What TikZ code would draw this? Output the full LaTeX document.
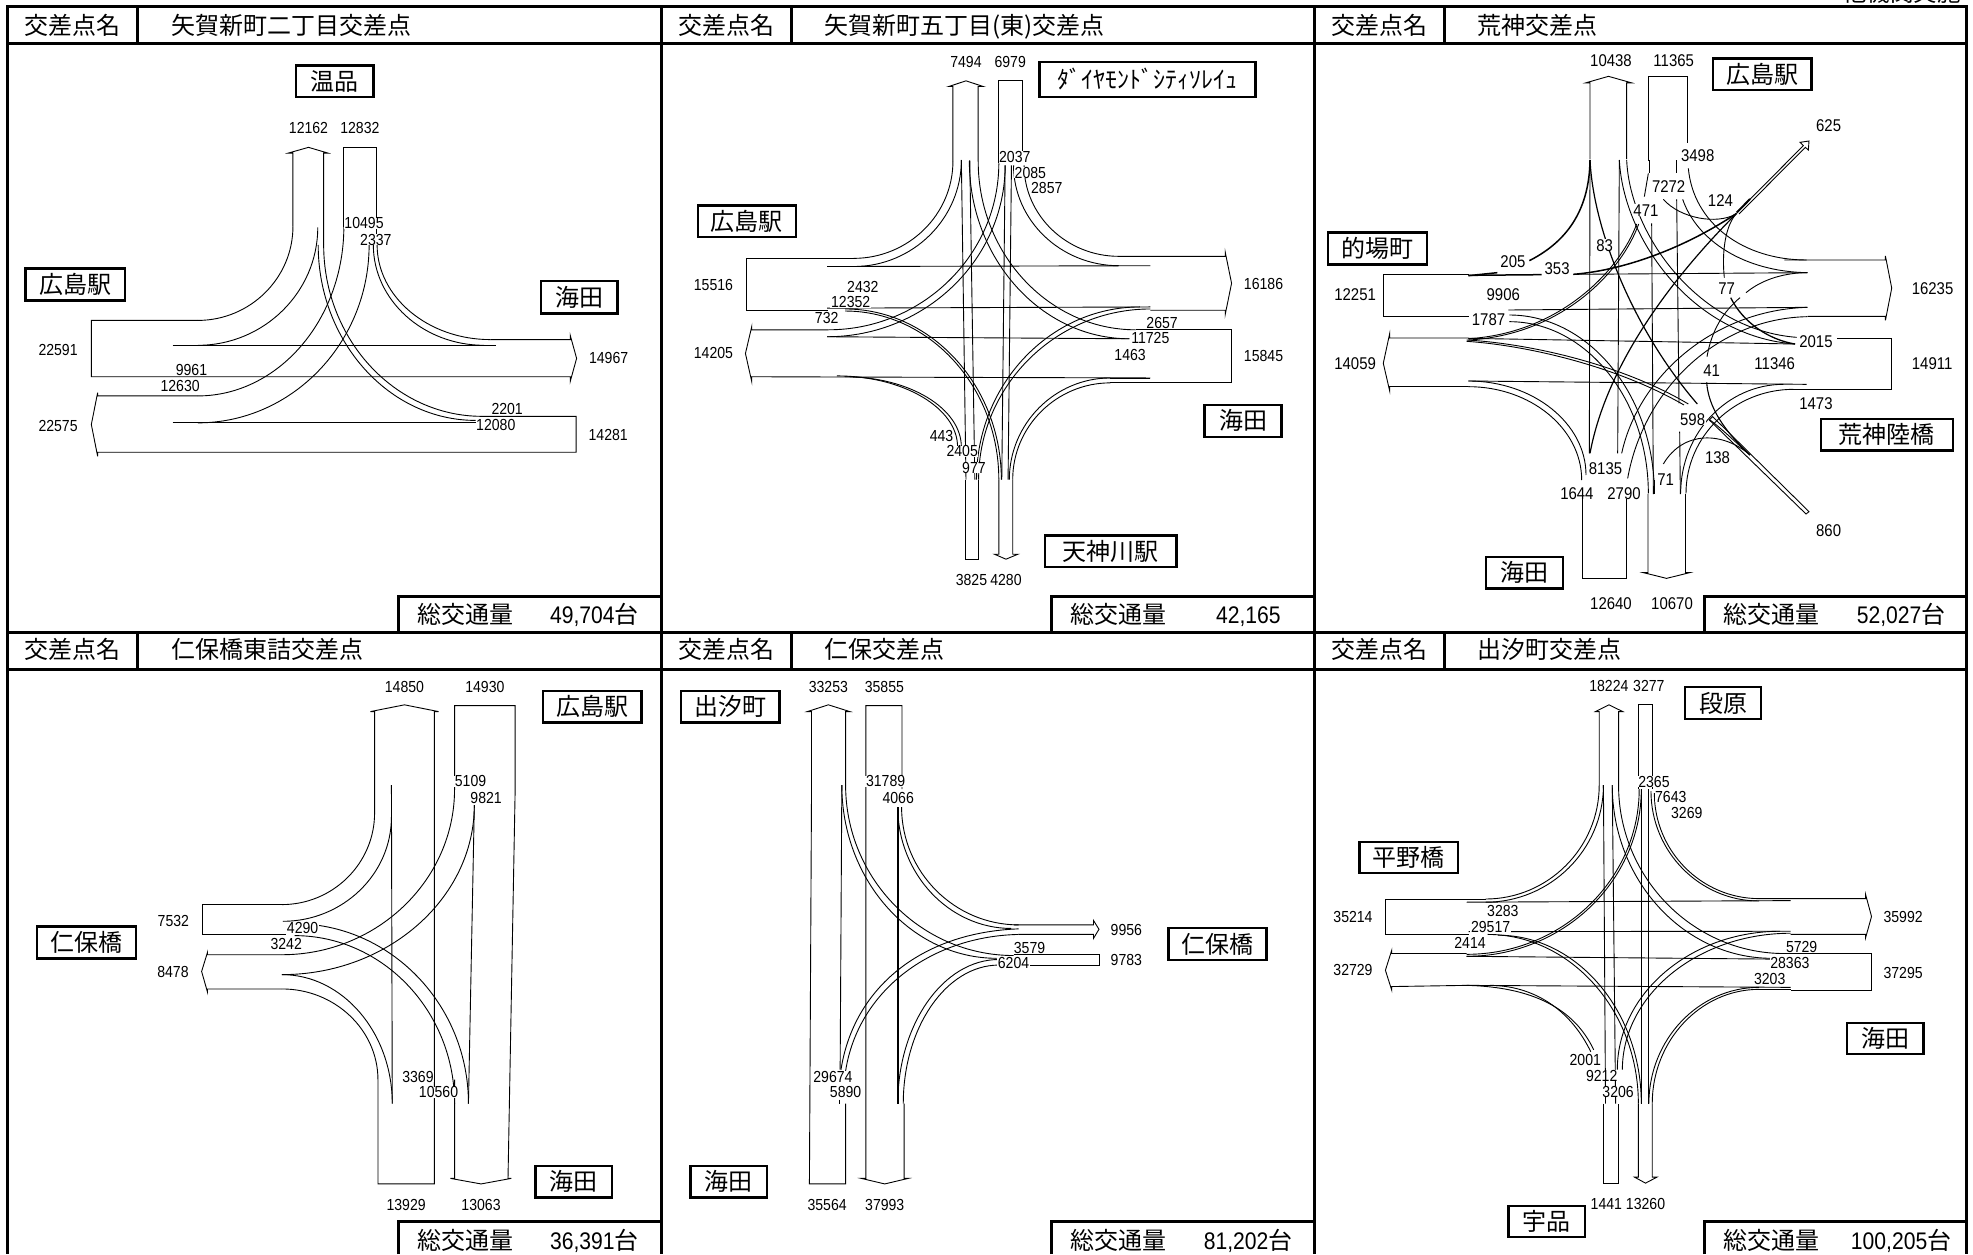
\documentclass[tikz,border=0pt]{standalone}
\usepackage{fontspec}
\setmainfont{Noto Sans CJK JP}
\newfontfamily\digitfont[FakeStretch=0.88]{Liberation Sans}
\newcounter{nn}
\newcommand{\numsz}{16}
\tikzset{
  lane/.style={line width=0.9pt,line join=miter,black},
  boldlane/.style={line width=1.5pt,line join=miter,black},
  frameline/.style={line width=3pt,black},
  boxline/.style={line width=2.4pt,black},
  numlab/.style={fill=white,inner xsep=0.6pt,inner ysep=0pt,font=\digitfont\fontsize{\numsz}{17}\selectfont},
  placelab/.style={inner sep=0pt,font=\fontsize{24}{26}\selectfont},
  headlab/.style={inner sep=0pt,text height=21pt,text depth=3pt,font=\fontsize{24}{26}\selectfont},
  rowA/.style={x=0.42088pt,y=-0.40816pt},
  rowB/.style={x=0.42088pt,y=-0.39793pt},
  zoomed/.style={x=0.33333pt,y=-0.33333pt}
}
\newcommand{\vh}[4]{\draw[lane] (#1,#2) .. controls (#1,{#2+.55*(#4-#2)}) and ({#1+.45*(#3-#1)},#4) .. (#3,#4);}
\newcommand{\tnum}[3]{\stepcounter{nn}\node[numlab] (n\thenn) at (#1,#2) {#3};}
\newcommand{\tplace}[5]{\stepcounter{nn}\draw[boxline,fill=white] (#1,#2) rectangle (#3,#4);\node[placelab] (n\thenn) at ({(#1+#3)/2},{(#2+#4)/2}) {#5};}
\newcommand{\ttitle}[4]{\stepcounter{nn}\node[headlab] (n\thenn) at (#1,#2) {交差点名};\stepcounter{nn}\node[headlab,anchor=west] (n\thenn) at (#3,#2) {#4};}
\newcommand{\ttotal}[4]{\stepcounter{nn}\node[headlab] (n\thenn) at (#1,#2) {総交通量};\stepcounter{nn}\node[headlab,anchor=east] (n\thenn) at (#3,#2) {#4};}
\begin{document}
\begin{tikzpicture}[x=1pt,y=-1pt]
\useasboundingbox (0,0) rectangle (1973,1254);
\fill[white] (0,0) rectangle (1973,1254);
% ---------- panel 1
\begin{scope}[shift={(0,0)},rowA]
\draw[lane] (696,555) -- (696,375) -- (685,375) -- (733,361) -- (779,375) -- (769,375) -- (769,600);
\draw[lane] (817,555) -- (817,362) -- (894,362) -- (894,600);
\vh{696}{555}{470}{785}
\draw[lane] (470,785) -- (217,785) -- (217,923) -- (1355,923) -- (1355,934) -- (1370,878) -- (1355,822) -- (1355,832) -- (1165,832);
\vh{755}{557}{470}{846}
\draw[lane] (410,846) -- (1178,846);
\vh{817}{555}{470}{970}
\draw[lane] (470,970) -- (232,970) -- (232,962) -- (217,1040) -- (232,1118) -- (232,1108) -- (1369,1108) -- (1369,1020) -- (1145,1020);
\vh{769}{600}{1145}{1020}
\vh{756}{600}{1130}{1030}
\vh{877}{600}{470}{1036}
\draw[lane] (410,1036) -- (1130,1036);
\vh{887}{600}{1150}{846}
\vh{896}{600}{1165}{832}
\tnum{733}{313}{12162}\tnum{855}{313}{12832}\tnum{865}{547}{10495}\tnum{893}{587}{2337}
\tnum{138}{857}{22591}\tnum{455}{906}{9961}\tnum{428}{945}{12630}\tnum{138}{1043}{22575}
\tnum{1446}{878}{14967}\tnum{1445}{1065}{14281}\tnum{1205}{1003}{2201}\tnum{1178}{1040}{12080}
\tplace{703}{160}{887}{238}{温品}
\tplace{61}{658}{297}{736}{広島駅}
\tplace{1285}{688}{1467}{768}{海田}
\ttitle{172}{62}{406}{矢賀新町二丁目交差点}
\ttotal{1105}{1505}{1518}{{\digitfont 49,704}台}
\end{scope}
% ---------- panel 2
\begin{scope}[shift={(660,0)},rowA]
\draw[lane] (696,395) -- (696,212) -- (686,212) -- (727,198) -- (768,212) -- (756,212) -- (756,395);
\draw[lane] (805,400) -- (805,198) -- (860,198) -- (860,400);
\draw[lane] (726,1175) -- (726,1370) -- (756,1370) -- (756,1175);
\draw[lane] (805,1175) -- (805,1358) -- (795,1358) -- (822,1370) -- (850,1358) -- (838,1358) -- (838,1175);
\vh{696}{395}{460}{633}
\draw[lane] (460,633) -- (205,633) -- (205,760) -- (400,760);
\vh{716}{392}{460}{653}
\draw[lane] (397,653) -- (1165,651);
\vh{840}{405}{1090}{651}
\vh{865}{405}{1090}{628}
\draw[lane] (1090,628) -- (1343,628) -- (1343,618) -- (1358,694) -- (1343,770) -- (1343,760) -- (1165,760);
\draw[lane] (397,755) -- (1165,752);
\vh{805}{400}{400}{808}
\vh{820}{405}{397}{825}
\draw[lane] (400,808) -- (218,808) -- (218,800) -- (203,866) -- (218,935) -- (218,923) -- (1165,926);
\draw[lane] (397,825) -- (1115,830);
\vh{756}{395}{1130}{808}
\vh{735}{395}{1115}{830}
\draw[lane] (1130,808) -- (1358,808) -- (1358,938) -- (1165,938);
\vh{811}{1175}{440}{757}
\vh{805}{1175}{440}{762}
\vh{707}{1095}{420}{921}
\vh{716}{1095}{440}{923}
\vh{830}{1175}{1070}{926}
\vh{838}{1175}{1070}{938}
\draw[lane] (1070,926) -- (1165,926);
\draw[lane] (1070,938) -- (1165,938);
\vh{752}{1175}{1140}{752}
\vh{757}{1175}{1165}{757}
\draw[lane] (716,392) -- (727,1175);
\draw[lane] (736,392) -- (748,1175);
\draw[lane] (820,405) -- (812,1175);
\draw[lane] (835,405) -- (827,1175);
\tnum{727}{151}{7494}\tnum{832}{151}{6979}\tnum{843}{385}{2037}\tnum{880}{423}{2085}\tnum{919}{461}{2857}
\tnum{127}{697}{15516}\tnum{127}{866}{14205}\tnum{482}{702}{2432}\tnum{453}{741}{12352}\tnum{396}{780}{732}
\tnum{1434}{695}{16186}\tnum{1434}{873}{15845}\tnum{1193}{791}{2657}\tnum{1165}{829}{11725}\tnum{1117}{869}{1463}
\tnum{669}{1069}{443}\tnum{718}{1106}{2405}\tnum{746}{1146}{977}\tnum{740}{1420}{3825}\tnum{822}{1420}{4280}
\tplace{902}{152}{1415}{237}{ﾀﾞｲﾔﾓﾝﾄﾞｼﾃｨｿﾚｲｭ}
\tplace{90}{503}{323}{580}{広島駅}
\tplace{1294}{992}{1477}{1070}{海田}
\tplace{915}{1312}{1227}{1389}{天神川駅}
\ttitle{157}{62}{390}{矢賀新町五丁目(東)交差点}
\ttotal{1090}{1505}{1475}{{\digitfont 42,165}}
\end{scope}
% ---------- panel 3: outlines
\begin{scope}[shift={(1313,0)},rowA]
\draw[lane] (658,390) -- (658,203) -- (648,203) -- (702,187) -- (757,203) -- (745,203) -- (745,390);
\draw[lane] (796,395) -- (796,187) -- (890,187) -- (890,350);
\draw[lane] (640,1220) -- (640,1417) -- (745,1417) -- (745,1220);
\draw[lane] (796,1210) -- (796,1403) -- (785,1403) -- (840,1417) -- (895,1403) -- (885,1403) -- (885,1210);
\draw[lane] (370,775) -- (167,775) -- (167,672) -- (370,672);
\draw[lane] (370,828) -- (182,828) -- (182,818) -- (167,890) -- (182,957) -- (182,947) -- (370,947);
\draw[lane] (1120,637) -- (1360,637) -- (1360,627) -- (1375,706) -- (1360,785) -- (1360,775) -- (1175,775);
\draw[lane] (1245,828) -- (1374,828) -- (1374,955) -- (1125,955);
\end{scope}
% ---------- panel 3: the crossing
\begin{scope}[shift={(1460,130)},zoomed]
\draw[boldlane] (25,436) -- (245,434);
\draw[lane] (340,433) -- (1042,428);
\draw[lane] (145,540) -- (1042,532);
\draw[lane] (25,625) -- (1005,642);
\draw[lane] (25,753) -- (1040,763);
\draw[lane] (390,90) -- (388,970);
\draw[lane] (478,90) -- (473,970);
\draw[lane] (575,280) -- (580,1092);
\draw[boldlane] (568,90) -- (568,128);
\draw[lane] (648,90) -- (648,128);
\draw[lane] (650,208) -- (657,820);
\draw[lane] (659,905) -- (661,1092);
\draw[lane] (500,90) .. controls (510,320) and (720,600) .. (1010,622);
\draw[lane] (478,90) .. controls (490,330) and (700,620) .. (1005,642);
\draw[lane] (685,115) .. controls (700,280) and (850,390) .. (1040,390);
\draw[lane] (668,208) .. controls (710,330) and (850,425) .. (1042,428);
\draw[boldlane] (390,90) .. controls (388,230) and (330,330) .. (208,392);
\draw[boldlane] (112,428) -- (25,437);
\draw[lane,line width=1.2pt] (390,90) .. controls (400,300) and (520,600) .. (712,822);
\draw[boldlane] (340,433) .. controls (500,420) and (680,350) .. (830,250);
\draw[lane] (565,130) -- (553,200);
\draw[lane] (530,282) .. controls (480,420) and (300,610) .. (25,626);
\draw[lane] (536,282) .. controls (485,425) and (305,615) .. (25,630);
\draw[lane] (832,246) -- (1030,47) -- (1020,37) -- (1047,33) -- (1045,60) -- (1036,52) -- (837,252);
\draw[line width=2pt] (830,248) -- (870,207);
\draw[lane] (610,208) .. controls (660,265) and (770,285) .. (828,252);
\draw[lane] (828,252) .. controls (795,290) and (785,370) .. (793,443);
\draw[lane,line width=1.2pt] (828,252) .. controls (640,440) and (440,700) .. (390,970);
\vh{583}{1090}{148}{555}
\vh{565}{1090}{148}{575}
\draw[lane] (20,630) .. controls (200,640) and (480,700) .. (685,822);
\draw[lane] (20,634) .. controls (200,646) and (470,708) .. (672,825);
\draw[line width=1.6pt] (583,1050) -- (583,1092);
\draw[lane] (485,970) .. controls (535,740) and (760,540) .. (1042,532);
\draw[lane] (503,1045) .. controls (550,780) and (770,565) .. (1042,560);
\draw[lane] (741,680) .. controls (755,600) and (790,545) .. (840,503);
\draw[lane] (858,488) .. controls (910,445) and (980,428) .. (1042,428);
\draw[lane,line width=1.3pt] (812,503) .. controls (850,580) and (930,630) .. (1005,642);
\draw[lane,line width=1.1pt] (740,757) .. controls (745,830) and (790,900) .. (870,975);
\draw[lane] (610,1002) .. controls (670,900) and (790,905) .. (870,975);
\draw[lane] (748,870) -- (1038,1152) -- (1047,1145) -- (758,860) -- cycle;
\draw[lane] (750,870) .. controls (790,900) and (830,940) .. (870,975);
\vh{662}{1090}{970}{763}
\vh{678}{1090}{1000}{778}
\vh{378}{1035}{25}{753}
\vh{365}{1050}{25}{770}
\end{scope}
% ---------- panel 3: labels
\begin{scope}[shift={(1313,0)},rowA]
\renewcommand{\numsz}{17}
\tnum{708}{148}{10438}\tnum{857}{148}{11365}\tnum{1225}{307}{625}\tnum{914}{382}{3498}\tnum{845}{456}{7272}
\tnum{968}{492}{124}\tnum{791}{515}{471}\tnum{693}{601}{83}\tnum{475}{640}{205}\tnum{580}{657}{353}
\tnum{100}{723}{12251}\tnum{452}{723}{9906}\tnum{417}{782}{1787}\tnum{100}{892}{14059}\tnum{983}{706}{77}
\tnum{1472}{706}{16235}\tnum{1195}{836}{2015}\tnum{1097}{892}{11346}\tnum{947}{907}{41}\tnum{1471}{892}{14911}
\tnum{1195}{990}{1473}\tnum{902}{1027}{598}\tnum{961}{1122}{138}\tnum{695}{1147}{8135}\tnum{838}{1174}{71}
\tnum{627}{1209}{1644}\tnum{739}{1209}{2790}\tnum{1225}{1301}{860}\tnum{708}{1480}{12640}\tnum{853}{1480}{10670}
\tplace{950}{143}{1184}{221}{広島駅}
\tplace{35}{570}{271}{648}{的場町}
\tplace{1207}{1027}{1520}{1104}{荒神陸橋}
\tplace{411}{1365}{594}{1442}{海田}
\ttitle{157}{62}{390}{荒神交差点}
\ttotal{1090}{1505}{1503}{{\digitfont 52,027}台}
\end{scope}
% ---------- panel 4
\begin{scope}[shift={(0,630)},rowB]
\draw[lane] (890,460) -- (890,205) -- (880,205) -- (961,188) -- (1042,205) -- (1032,205) -- (1032,1392) -- (898,1392) -- (898,1130);
\vh{890}{460}{670}{690}
\draw[lane] (670,690) -- (480,690) -- (480,765) -- (680,765);
\vh{898}{1130}{670}{902}
\draw[lane] (670,902) -- (493,902) -- (493,910) -- (479,858) -- (493,810) -- (493,816) -- (670,816);
\vh{1080}{400}{670}{816}
\draw[lane] (1080,400) -- (1080,190) -- (1224,190) -- (1224,400) -- (1207,1378) -- (1215,1378) -- (1143,1392) -- (1070,1378) -- (1080,1378) -- (1080,1130);
\vh{930}{470}{672}{732}
\draw[lane] (930,390) -- (932,1190);
\vh{1127}{440}{670}{866}
\draw[lane] (1127,440) -- (1113,1190);
\vh{932}{1190}{670}{866}
\vh{1113}{1190}{700}{738}
\vh{1080}{1190}{700}{768}
\tnum{961}{142}{14850}\tnum{1152}{142}{14930}\tnum{1118}{380}{5109}\tnum{1155}{422}{9821}\tnum{412}{730}{7532}
\tnum{719}{748}{4290}\tnum{680}{789}{3242}\tnum{411}{860}{8478}\tnum{993}{1122}{3369}\tnum{1042}{1162}{10560}
\tnum{965}{1444}{13929}\tnum{1143}{1444}{13063}
\tplace{1290}{154}{1524}{232}{広島駅}
\tplace{88}{745}{323}{825}{仁保橋}
\tplace{1272}{1347}{1454}{1426}{海田}
\ttitle{172}{50}{406}{仁保橋東詰交差点}
\ttotal{1105}{1535}{1518}{{\digitfont 36,391}台}
\end{scope}
% ---------- panel 5
\begin{scope}[shift={(660,630)},rowB]
\draw[lane] (441,390) -- (441,205) -- (451,205) -- (400,188) -- (350,205) -- (360,205) -- (360,400) -- (355,1392) -- (441,1392) -- (441,1190);
\draw[lane] (575,400) -- (575,190) -- (489,190) -- (489,1378) -- (478,1378) -- (534,1392) -- (590,1378) -- (580,1378) -- (580,1190);
\vh{432}{390}{800}{825}
\vh{441}{390}{840}{818}
\draw[lane] (918,815) -- (1043,815) -- (1043,842) -- (880,842);
\draw[lane] (840,815) -- (918,815);
\vh{565}{445}{835}{750}
\vh{574}{445}{852}{741}
\draw[lane] (840,741) -- (1030,741) -- (1030,730) -- (1043,752) -- (1030,775) -- (1030,765) -- (852,765);
\draw[lane] (852,751) .. controls (620,760) and (460,900) .. (430,1105);
\draw[lane] (852,765) .. controls (640,770) and (470,910) .. (441,1108);
\vh{565}{1190}{805}{828}
\vh{578}{1190}{805}{842}
\draw[lane] (432,390) -- (428,1105);
\draw[lane] (427,1180) -- (427,1190);
\draw[lane,line width=1.4pt] (565,445) -- (565,1190);
\tnum{400}{142}{33253}\tnum{533}{142}{35855}\tnum{536}{380}{31789}\tnum{566}{422}{4066}\tnum{1108}{755}{9956}
\tnum{878}{798}{3579}\tnum{840}{838}{6204}\tnum{1108}{830}{9783}\tnum{411}{1122}{29674}\tnum{441}{1162}{5890}
\tnum{397}{1444}{35564}\tnum{534}{1444}{37993}
\tplace{50}{154}{284}{232}{出汐町}
\tplace{1208}{749}{1441}{829}{仁保橋}
\tplace{72}{1347}{254}{1426}{海田}
\ttitle{157}{50}{390}{仁保交差点}
\ttotal{1090}{1535}{1503}{{\digitfont 81,202}台}
\end{scope}
% ---------- panel 6
\begin{scope}[shift={(1313,630)},rowB]
\draw[lane] (680,390) -- (680,205) -- (671,205) -- (703,188) -- (736,205) -- (726,205) -- (726,390);
\draw[lane] (773,400) -- (773,188) -- (806,188) -- (806,400);
\draw[lane] (690,1190) -- (690,1390) -- (726,1390) -- (726,1190);
\draw[lane] (773,1190) -- (773,1375) -- (764,1375) -- (790,1390) -- (817,1375) -- (806,1375) -- (806,1190);
\draw[lane] (410,676) -- (172,676) -- (172,764) -- (370,764);
\draw[lane] (365,813) -- (187,813) -- (187,805) -- (172,855) -- (187,905) -- (187,896) -- (365,893) -- (1135,898);
\draw[lane] (1060,675) -- (1313,675) -- (1313,665) -- (1327,720) -- (1313,773) -- (1313,765) -- (1135,765);
\draw[lane] (1120,813) -- (1327,813) -- (1327,907) -- (1135,907);
\draw[lane] (365,684) -- (1135,680);
\draw[lane] (370,758) -- (1135,757);
\draw[lane] (365,820) -- (1090,827);
\vh{680}{390}{410}{676}
\vh{690}{390}{410}{684}
\vh{811}{410}{1060}{675}
\vh{803}{405}{1060}{681}
\vh{775}{400}{365}{815}
\vh{780}{400}{365}{820}
\vh{726}{390}{1120}{813}
\vh{711}{390}{1090}{825}
\draw[lane] (660,1060) .. controls (610,950) and (520,893) .. (420,893);
\draw[lane] (667,1055) .. controls (620,950) and (520,897) .. (365,893);
\vh{773}{1190}{415}{765}
\vh{780}{1190}{440}{767}
\vh{723}{1105}{1110}{757}
\vh{735}{1105}{1135}{762}
\vh{798}{1190}{1060}{898}
\vh{806}{1190}{1060}{903}
\draw[lane] (1060,903) -- (1135,903);
\draw[lane] (690,390) -- (695,1190);
\draw[lane] (711,390) -- (719,1190);
\draw[lane] (780,400) -- (780,1190);
\draw[lane] (798,400) -- (798,1190);
\tnum{703}{140}{18224}\tnum{798}{140}{3277}\tnum{810}{381}{2365}\tnum{850}{419}{7643}\tnum{888}{459}{3269}
\tnum{95}{721}{35214}\tnum{451}{706}{3283}\tnum{422}{746}{29517}\tnum{373}{786}{2414}\tnum{1402}{720}{35992}
\tnum{1161}{796}{5729}\tnum{1133}{836}{28363}\tnum{1402}{861}{37295}\tnum{1085}{877}{3203}\tnum{95}{855}{32729}
\tnum{647}{1080}{2001}\tnum{686}{1120}{9212}\tnum{725}{1160}{3206}\tnum{697}{1442}{1441}\tnum{790}{1442}{13260}
\tplace{884}{143}{1065}{224}{段原}
\tplace{110}{532}{344}{610}{平野橋}
\tplace{1268}{987}{1450}{1066}{海田}
\tplace{464}{1447}{646}{1526}{宇品}
\ttitle{157}{50}{390}{出汐町交差点}
\ttotal{1090}{1535}{1517}{{\digitfont 100,205}台}
\end{scope}
% ---------- frames
\draw[frameline] (7,6.5) -- (1966,6.5);
\draw[frameline] (7,43) -- (1966,43);
\draw[frameline] (7,632) -- (1966,632);
\draw[frameline] (7,669) -- (1966,669);
\draw[frameline] (7,5) -- (7,1254);
\draw[frameline] (661,5) -- (661,1254);
\draw[frameline] (1314,5) -- (1314,1254);
\draw[frameline] (1966,5) -- (1966,1254);
\draw[frameline] (137,6) -- (137,43);
\draw[frameline] (791,6) -- (791,43);
\draw[frameline] (1444,6) -- (1444,43);
\draw[frameline] (137,632) -- (137,669);
\draw[frameline] (791,632) -- (791,669);
\draw[frameline] (1444,632) -- (1444,669);
\draw[frameline] (398,632) -- (398,596) -- (661,596);
\draw[frameline] (1051,632) -- (1051,596) -- (1314,596);
\draw[frameline] (1704,632) -- (1704,596) -- (1966,596);
\draw[frameline] (398,1254) -- (398,1221) -- (661,1221);
\draw[frameline] (1051,1254) -- (1051,1221) -- (1314,1221);
\draw[frameline] (1704,1254) -- (1704,1221) -- (1966,1221);
\stepcounter{nn}\node[inner sep=0pt,anchor=base,font=\fontsize{23.5}{26}\selectfont] (n\thenn) at (1902,1.5) {他機関実施};
\end{tikzpicture}
\end{document}
